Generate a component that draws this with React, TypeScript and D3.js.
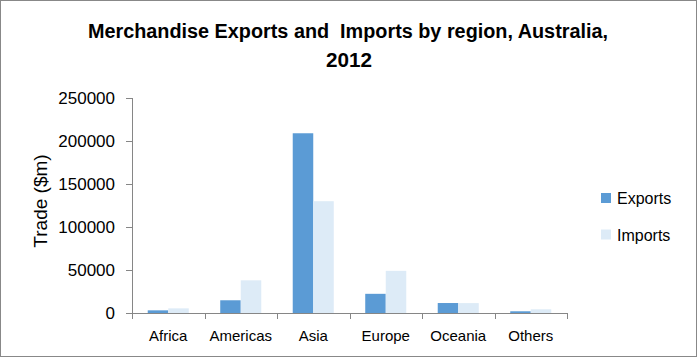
import React from "react";
import * as d3 from "d3";

const categories = ["Africa", "Americas", "Asia", "Europe", "Oceania", "Others"];
const seriesNames = ["Exports", "Imports"];
const exportsValues = [3100, 14800, 209000, 22300, 11600, 2000];
const importsValues = [5400, 38000, 130000, 49000, 11500, 4300];
const yTicks = [0, 50000, 100000, 150000, 200000, 250000];
const titleLines = ["Merchandise Exports and  Imports by region, Australia,", "2012"];
const yAxisTitle = "Trade ($m)";
const colors = ["#5B9BD5", "#DDEBF7"];

export default function App() {
  const W = 698, H = 358;
  const left = 132, right = 567, top = 98, bottom = 313;
  const y = d3.scaleLinear().domain([0, 250000]).range([bottom, top]);
  const x0 = d3.scaleBand<string>().domain(categories).range([left, right]).paddingInner(0.434).paddingOuter(0.217);
  const x1 = d3.scaleBand<string>().domain(seriesNames).range([0, x0.bandwidth()]);
  const step = x0.step();
  const data = [exportsValues, importsValues];
  const font = "'Liberation Sans', Arial, sans-serif";
  const axisColor = "#868686";
  const boundaries = d3.range(categories.length + 1).map((i) => left + i * step);

  return (
    <svg width={W} height={H} style={{ position: "absolute", left: 0, top: 0 }} fontFamily={font}>
      <rect x={0} y={0} width={W} height={H} fill="#fff" />
      <rect x={0.5} y={0.5} width={696} height={356} fill="none" stroke="#888" strokeWidth={1} />
      <text x={348} y={38} textAnchor="middle" fontSize={20} fontWeight="bold" textLength={520} lengthAdjust="spacingAndGlyphs" fill="#000" style={{ whiteSpace: "pre" }}>{titleLines[0]}</text>
      <text x={349} y={67} textAnchor="middle" fontSize={20} fontWeight="bold" textLength={46} lengthAdjust="spacingAndGlyphs" fill="#000">{titleLines[1]}</text>

      {data.map((vals, si) =>
        categories.map((c, ci) => (
          <rect
            key={`${si}-${ci}`}
            x={(x0(c) as number) + (x1(seriesNames[si]) as number)}
            y={y(vals[ci])}
            width={x1.bandwidth()}
            height={bottom - y(vals[ci])}
            fill={colors[si]}
          />
        ))
      )}

      <line x1={left + 0.5} x2={left + 0.5} y1={top} y2={bottom} stroke={axisColor} />
      {yTicks.map((t) => (
        <g key={t}>
          <line x1={left - 6} x2={left} y1={Math.round(y(t)) + 0.5} y2={Math.round(y(t)) + 0.5} stroke={axisColor} />
          <text x={115} y={y(t) + 6} textAnchor="end" fontSize={17} fill="#000">{t}</text>
        </g>
      ))}
      <line x1={left} x2={right} y1={bottom + 0.5} y2={bottom + 0.5} stroke={axisColor} />
      {boundaries.map((b, i) => (
        <line key={i} x1={Math.round(b) + 0.5} x2={Math.round(b) + 0.5} y1={bottom} y2={bottom + 6} stroke={axisColor} />
      ))}
      {categories.map((c) => (
        <text key={c} x={(x0(c) as number) + x0.bandwidth() / 2} y={341} textAnchor="middle" fontSize={15} fill="#000">{c}</text>
      ))}

      <text transform={`translate(47,201) rotate(-90)`} textAnchor="middle" fontSize={19} fill="#000">{yAxisTitle}</text>

      {seriesNames.map((s, i) => (
        <g key={s}>
          <rect x={601} y={193 + i * 36.5} width={10} height={10} fill={colors[i]} />
          <text x={617} y={204 + i * 36.5} fontSize={16} fill="#000">{s}</text>
        </g>
      ))}
    </svg>
  );
}
